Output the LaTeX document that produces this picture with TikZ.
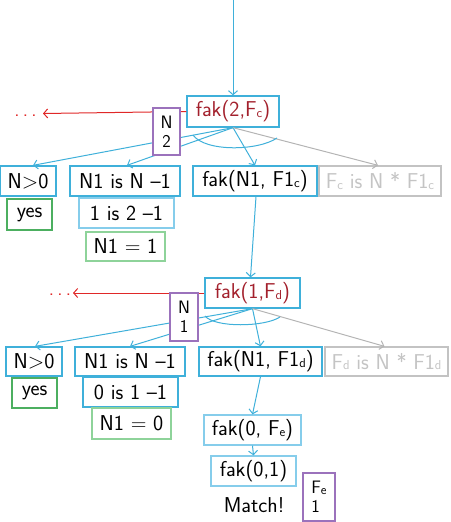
\documentclass[tikz,border=0pt]{standalone}
\usepackage{fontspec}
\usetikzlibrary{arrows.meta}
\definecolor{bl}{HTML}{3FB0DA}
\definecolor{lbl}{HTML}{86CDEB}
\definecolor{gr}{HTML}{4CAF60}
\definecolor{lgr}{HTML}{8ED39A}
\definecolor{pu}{HTML}{9B72BC}
\definecolor{dred}{HTML}{A3202C}
\definecolor{rline}{HTML}{E02828}
\definecolor{gline}{HTML}{B4B4B4}
\definecolor{gtext}{HTML}{C4C4C4}
\newcommand{\sbs}[1]{\raisebox{-0.1ex}{\fontsize{13}{13}\selectfont #1}}
\tikzset{
  txt/.style={font=\sffamily\fontsize{21.5}{23}\selectfont, inner sep=0pt, align=center},
  bbox/.style={txt, draw=bl, line width=1.3pt, fill=white},
  lbbox/.style={txt, draw=lbl, line width=1.3pt, fill=white},
  gbox/.style={txt, draw=gr, line width=1.3pt, fill=white},
  lgbox/.style={txt, draw=lgr, line width=1.3pt, fill=white},
  grbox/.style={txt, draw=gline!80, line width=1.3pt, fill=white, text=gtext},
  redtxt/.style={text=dred, font=\sffamily\fontsize{21.5}{23}\selectfont\addfontfeature{LetterSpace=8}},
  pbox/.style={font=\sffamily\fontsize{18}{20}\selectfont, inner sep=0pt, align=center, draw=pu, line width=1.3pt, fill=white},
  conn/.style={draw=bl, line width=1pt, -{Straight Barb[length=4pt,width=9pt]}},
  gconn/.style={draw=gline, line width=1pt, -{Straight Barb[length=4pt,width=9pt]}},
  rconn/.style={draw=rline, line width=1pt, -{Straight Barb[length=4pt,width=9pt]}},
  andarc/.style={draw=bl, line width=1pt},
  dotsty/.style={txt, text=rline, font=\sffamily\fontsize{20}{20}\selectfont},
}
\begin{document}
\begin{tikzpicture}[x=1pt,y=-1pt]
\useasboundingbox (0,0) rectangle (450,522);
% level 1
\node[bbox, redtxt, minimum width=92, minimum height=31] (f2) at (233,111.5) {fak(2,F\sbs{c})};
\node[bbox, minimum width=56, minimum height=30] (nz1) at (28,181) {N>0};
\node[bbox, minimum width=110, minimum height=30] (is1) at (125,181) {N1 is N \textendash1};
\node[bbox, minimum width=124, minimum height=30] (fk1) at (255,181) {fak(N1, F1\sbs{c})};
\node[grbox, minimum width=122, minimum height=30] (g1) at (380,181) {F\sbs{c} is N * F1\sbs{c}};
\node[gbox, minimum width=45, minimum height=31] (yes1) at (29.5,214.5) {yes};
\node[lbbox, minimum width=95, minimum height=30] (eq1) at (126.5,213) {1 is 2 \textendash1};
\node[lgbox, minimum width=79, minimum height=29] (r1) at (125.5,246.5) {N1 = 1};
\coordinate (top) at (233,0);
\coordinate (dots1tip) at (43,113.5);
\node[dotsty] (dots1) at (25.5,116) {.\,.\,.};
% level 2
\node[bbox, redtxt, minimum width=95, minimum height=30] (f1) at (252.5,293) {fak(1,F\sbs{d})};
\node[bbox, minimum width=56, minimum height=29] (nz2) at (34,361.5) {N>0};
\node[bbox, minimum width=110, minimum height=29] (is2) at (130,361.5) {N1 is N \textendash1};
\node[bbox, minimum width=123, minimum height=29] (fk2) at (260.5,361.5) {fak(N1, F1\sbs{d})};
\node[grbox, minimum width=123, minimum height=29] (g2) at (386.5,361.5) {F\sbs{d} is N * F1\sbs{d}};
\node[gbox, minimum width=45, minimum height=30] (yes2) at (34.5,393) {yes};
\node[bbox, minimum width=95, minimum height=30] (eq2) at (130.5,392) {0 is 1 \textendash1};
\node[lgbox, minimum width=79, minimum height=31] (r2) at (131.5,423.5) {N1 = 0};
\coordinate (dots2tip) at (73,293);
\node[dotsty] (dots2) at (60,295) {.\,.\,.};
% level 3
\node[lbbox, minimum width=97, minimum height=30] (f0e) at (252.5,430) {fak(0, F\sbs{e})};
\node[lbbox, minimum width=85, minimum height=30] (f01) at (253.5,471) {fak(0,1)};
\node[txt, font=\sffamily\fontsize{21.5}{23}\selectfont\addfontfeature{LetterSpace=8}] (match) at (254,505) {Match!};
% connectors
\draw[conn] (top) -- (f2.north);
\draw[rconn] (f2.west) -- (dots1tip);
\draw[conn] (f2.south) -- ([xshift=5pt]nz1.north);
\draw[conn] (f2.south) -- ([xshift=2pt]is1.north);
\draw[conn] (f2.south) -- (fk1.north);
\draw[gconn] (f2.south) -- ([xshift=-2pt]g1.north);
\draw[andarc] (193,135) .. controls (205,152) and (258,151) .. (277,138);
\draw[conn] ([xshift=1pt]fk1.south) -- ([xshift=-2pt]f1.north);
\draw[rconn] (f1.west) -- (dots2tip);
\draw[conn] (f1.south) -- ([xshift=1pt]nz2.north);
\draw[conn] (f1.south) -- (is2.north);
\draw[conn] (f1.south) -- (fk2.north);
\draw[gconn] (f1.south) -- ([xshift=-2pt]g2.north);
\draw[andarc] (205,316) .. controls (215,328) and (265,327) .. (280,317);
\draw[conn] (fk2.south) -- (f0e.north);
\draw[conn] (f0e.south) -- (f01.north);
% binding boxes
\node[pbox, minimum width=27, minimum height=47] (n2) at (166.5,131.5) {N\\[-1pt]2};
\node[pbox, minimum width=28, minimum height=48] (n1) at (184,317) {N\\[-1pt]1};
\node[pbox, minimum width=32, minimum height=48, align=left] (fe) at (319,497) {F\sbs{e}\\[-1pt]1};
\end{tikzpicture}
\end{document}
